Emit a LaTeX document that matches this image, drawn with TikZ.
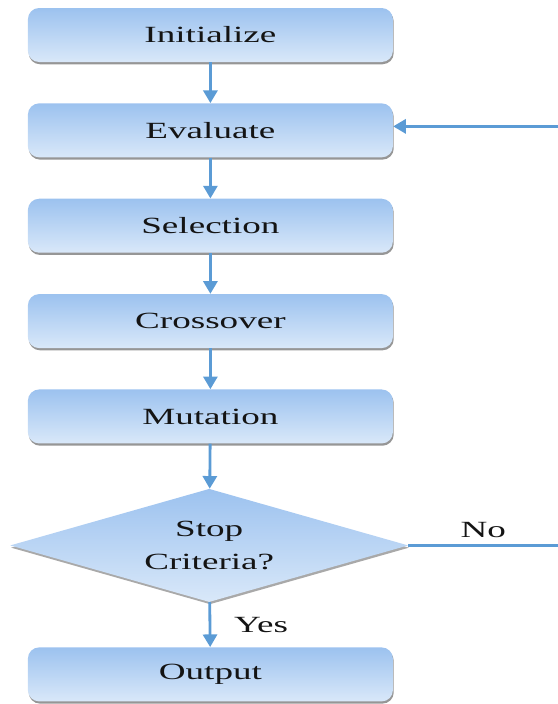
\documentclass[tikz,border=0pt]{standalone}
\usepackage{fontspec}
\setmainfont{Liberation Serif}[FakeStretch=1.6]
\usepackage{tikz}
\usetikzlibrary{arrows.meta, calc, positioning, shapes.geometric, shadows}
\definecolor{GA-line}{RGB}{91,155,213}
\definecolor{GA-top}{RGB}{156,194,239}
\definecolor{GA-bottom}{RGB}{217,232,249}
\definecolor{GA-text}{RGB}{20,20,20}
\tikzset{%
    flow/.style={%
        draw=GA-line,
        line width=2pt,
        -{Triangle[length=9pt,width=10pt]},
    },
    stepbox/.style={%
        rectangle,
        top color=GA-top,
        bottom color=GA-bottom,
        minimum width=9.125cm,
        minimum height=1.35cm,
        rounded corners=8pt,
        drop shadow={shadow xshift=0.6pt, shadow yshift=-1.6pt, opacity=0.55, fill=black!75},
        text=GA-text,
        font=\fontsize{16.5}{19}\selectfont,
        text centered,
    },
    decision/.style={%
        diamond,
        aspect=3.5,
        top color=GA-top,
        bottom color=GA-bottom,
        minimum width=9.95cm,
        minimum height=2.83cm,
        inner sep=0pt,
        drop shadow={shadow xshift=0.6pt, shadow yshift=-1.6pt, opacity=0.45, fill=black!75},
        text=GA-text,
        align=center,
        font=\fontsize{16.5}{23}\selectfont,
    },
    tag/.style={%
        text=GA-text,
        font=\fontsize{16.5}{19}\selectfont,
    },
}
\begin{document}
\begin{tikzpicture}[node distance=1.02cm]
  \useasboundingbox (0, 0) rectangle (13.95, -17.6);
  \coordinate (top_side) at (5.26, -0.875);
  \coordinate (right_edge) at (13.95, 0);

  \node [stepbox] at (top_side) (init) {Initialize};
  \node [stepbox, below=of init] (eval) {Evaluate};
  \node [stepbox, below=of eval] (select) {Selection};
  \node [stepbox, below=of select] (cross) {Crossover};
  \node [stepbox, below=of cross] (mutate) {Mutation};
  \node [decision, below=1.12cm of mutate, xshift=-0.03cm] (stop) {Stop\\Criteria?};
  \node [stepbox, below=1.12cm of stop, xshift=0.03cm] (output) {Output};

  \coordinate (no_end) at (stop.east -| right_edge);
  \coordinate (loop_in) at ($(eval.east -| right_edge) + (0, 0.1)$);

  \draw[flow] (init) -- (eval);
  \draw[flow] (eval) -- (select);
  \draw[flow] (select) -- (cross);
  \draw[flow] (cross) -- (mutate);
  \draw[flow] (mutate) -- (stop);
  \draw[flow] (stop) -- node [tag, right=0.45cm] (yes) {Yes} (output);

  \draw[flow, -] (stop.east) -- node [tag, above=0.05cm] (no) {No} (no_end);
  \draw[flow] (loop_in) -- (loop_in -| eval.east);
\end{tikzpicture}
\end{document}
